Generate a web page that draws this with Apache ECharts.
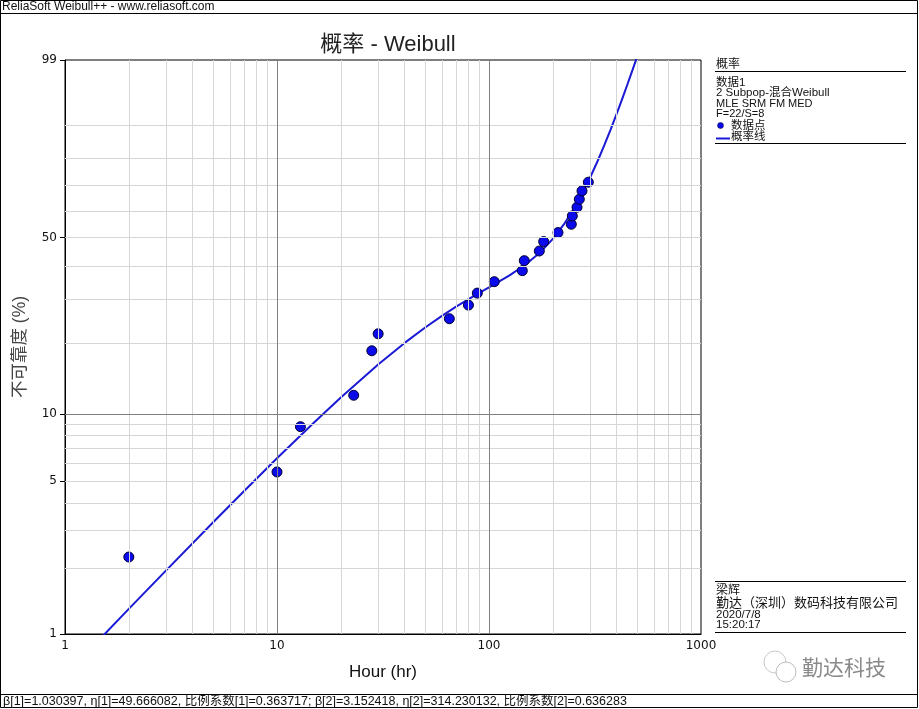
<!DOCTYPE html>
<html><head><meta charset="utf-8">
<script src="https://cdn.jsdelivr.net/npm/echarts@6/dist/echarts.min.js"></script>
<style>html,body{margin:0;padding:0;background:#fff}#c{width:919px;height:709px}</style>
</head><body><div id="c"></div>
<script>
// ---- data ----
const failureHours = [2.0, 10.0, 12.9, 23.0, 28.0, 30.0, 65.0, 80.0, 88.1, 105.9, 143.6, 146.7, 172.7, 181.1, 211.6, 244.5, 247.2, 260.1, 266.7, 274.6, 294.1];
const failureUnrel = [2.26, 5.51, 8.78, 12.06, 18.67, 21.94, 25.24, 28.57, 31.78, 35.08, 38.49, 41.77, 45.08, 48.45, 51.79, 54.95, 58.16, 61.57, 64.71, 67.97, 71.33];
const lineHours = [1.5, 2, 3, 5, 7, 10, 15, 20, 30, 40, 50, 60, 70, 85, 100, 125, 150, 175, 200, 225, 250, 275, 300, 325, 350, 375, 400, 425, 450, 475, 500];
const lineUnrel = [0.974, 1.305, 1.963, 3.260, 4.523, 6.349, 9.193, 11.799, 16.347, 20.125, 23.277, 25.923, 28.174, 31.010, 33.421, 37.026, 40.664, 44.737, 49.438, 54.800, 60.695, 66.904, 73.125, 79.041, 84.364, 88.889, 92.509, 95.227, 97.139, 98.392, 99.156];
const yTickLabels = [1, 5, 10, 50, 99];
const xGridMinor = [2,3,4,5,6,7,8,9,20,30,40,50,60,70,80,90,200,300,400,500,600,700,800,900];
const xGridMajor = [10, 100];
const yGridMinor = [2,3,4,5,6,7,8,9,20,30,40,50,60,70,80,90];
const yGridMajor = [10];
const legendLines = ['数据1', '2 Subpop-混合Weibull', 'MLE SRM FM MED', 'F=22/S=8'];
const footerText = 'β[1]=1.030397, η[1]=49.666082, 比例系数[1]=0.363717; β[2]=3.152418, η[2]=314.230132, 比例系数[2]=0.636283';

// Weibull probability-paper transform
const wp = p => Math.log(-Math.log(1 - p / 100));
const wpInv = v => 100 * (1 - Math.exp(-Math.exp(v)));

const FONT = '"Liberation Sans","Noto Sans CJK SC",sans-serif';
const TICKFONT = '"DejaVu Sans",sans-serif';
const chart = echarts.init(document.getElementById('c'), null, {renderer: 'canvas'});

const gridMarks = []
  .concat(xGridMinor.map(v => ({xAxis: v, lineStyle: {color: '#d6d6d6', width: 1, type: 'solid'}})))
  .concat(yGridMinor.map(v => ({yAxis: wp(v), lineStyle: {color: '#d6d6d6', width: 1, type: 'solid'}})))
  .concat(xGridMajor.map(v => ({xAxis: v, lineStyle: {color: '#808080', width: 1, type: 'solid'}})))
  .concat(yGridMajor.map(v => ({yAxis: wp(v), lineStyle: {color: '#808080', width: 1, type: 'solid'}})));

const txt = (x, y, text, size, extra) => Object.assign({
  type: 'text', x: x, y: y, silent: true,
  style: Object.assign({text: text, fontSize: size || 11, fontFamily: FONT, fill: '#111', verticalAlign: 'middle'}, extra || {})
});
const hline = (x1, x2, y, color, w) => ({type: 'line', silent: true, shape: {x1: x1, y1: y, x2: x2, y2: y}, style: {stroke: color || '#000', lineWidth: w || 1}});

const graphics = [
  {type: 'rect', silent: true, shape: {x: 0.5, y: 0.5, width: 917, height: 707}, style: {fill: null, stroke: '#000', lineWidth: 1}},
  hline(0, 918, 13.5),
  txt(2, 7, 'ReliaSoft Weibull++ - www.reliasoft.com', 12),
  hline(0, 918, 694.5),
  txt(3, 701.5, footerText, 12.5),
  // legend panel
  txt(716, 65, '概率', 12),
  hline(715, 906, 71.5),
  txt(716, 82.5, legendLines[0], 11.5),
  txt(716, 93, legendLines[1], 11.5),
  txt(716, 103.5, legendLines[2], 11),
  txt(716, 114, legendLines[3], 11),
  {type: 'circle', silent: true, shape: {cx: 720.5, cy: 125.5, r: 3}, style: {fill: '#0a0aeb', stroke: '#000033', lineWidth: 0.5}},
  txt(731, 125.5, '数据点', 11.5),
  hline(716, 730, 138.5, '#1a1ad6', 2),
  txt(731, 136.5, '概率线', 11.5),
  hline(715, 906, 143.5),
  // info panel
  hline(715, 906, 581.5),
  txt(716, 591, '梁辉', 12),
  txt(716, 603, '勤达（深圳）数码科技有限公司', 13),
  txt(716, 614.5, '2020/7/8', 11.5),
  txt(716, 625, '15:20:17', 11.5),
  hline(715, 906, 632.5),
  // watermark
  {type: 'circle', silent: true, shape: {cx: 775, cy: 662, r: 11}, style: {fill: '#fff', stroke: '#c8c8c8', lineWidth: 1}},
  {type: 'circle', silent: true, shape: {cx: 786, cy: 672, r: 10}, style: {fill: '#fff', stroke: '#bdbdbd', lineWidth: 1}},
  txt(802, 669, '勤达科技', 21, {fill: '#8a8a8a'})
];

chart.setOption({
  animation: false,
  backgroundColor: '#fff',
  title: {
    text: '概率 - Weibull', left: 383, top: 29, textAlign: 'center',
    textStyle: {fontSize: 22, fontWeight: 'normal', color: '#222', fontFamily: FONT}
  },
  grid: {left: 65, top: 60, width: 636, height: 574, show: true, borderColor: '#000', borderWidth: 1, backgroundColor: 'transparent'},
  xAxis: {
    type: 'log', logBase: 10, min: 1, max: 1000,
    name: 'Hour (hr)', nameLocation: 'middle', nameGap: 30,
    nameTextStyle: {fontSize: 17, color: '#111', fontFamily: FONT},
    axisLine: {onZero: false, lineStyle: {color: '#000', width: 1}},
    axisTick: {show: false},
    axisLabel: {margin: 6, fontSize: 12, color: '#111', fontFamily: TICKFONT, formatter: v => String(Math.round(v))},
    splitLine: {show: false}, minorTick: {show: false}, minorSplitLine: {show: false}
  },
  yAxis: {
    type: 'value', min: wp(1), max: wp(99),
    name: '不可靠度 (%)', nameLocation: 'middle', nameGap: 36, nameRotate: 90,
    nameTextStyle: {fontSize: 17.5, color: '#444', fontFamily: FONT},
    axisLine: {show: true, onZero: false, lineStyle: {color: '#000', width: 1}},
    axisTick: {show: true, length: 5, inside: false, customValues: yTickLabels.map(wp), lineStyle: {color: '#000'}},
    axisLabel: {margin: 8, fontSize: 12, color: '#111', fontFamily: TICKFONT, customValues: yTickLabels.map(wp), formatter: v => String(Math.round(wpInv(v)))},
    splitLine: {show: false}
  },
  graphic: graphics,
  series: [
    {
      name: 'grid', type: 'line', z: 1, silent: true, symbol: 'none',
      data: [[1, wp(1)]],
      markLine: {silent: true, symbol: ['none', 'none'], label: {show: false}, animation: false, data: gridMarks}
    },
    {
      name: '概率线', type: 'line', z: 3, clip: true, symbol: 'none', showSymbol: false,
      data: lineHours.map((h, i) => [h, wp(lineUnrel[i])]),
      lineStyle: {color: '#1a1ad6', width: 2}
    },
    {
      name: '数据点', type: 'scatter', z: 4, symbol: 'circle', symbolSize: 10,
      data: failureHours.map((h, i) => [h, wp(failureUnrel[i])]),
      itemStyle: {color: '#0a0aeb', borderColor: '#000033', borderWidth: 1, opacity: 1}
    }
  ]
});
</script>
</body></html>
